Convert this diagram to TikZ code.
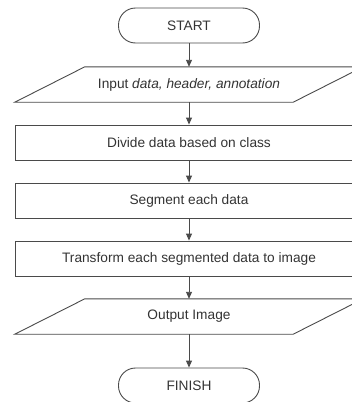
\documentclass[tikz,border=0pt]{standalone}
\usepackage{fontspec}
\setmainfont{Liberation Sans}
\usetikzlibrary{arrows.meta}
\definecolor{linec}{HTML}{4A4A4A}
\definecolor{textc}{HTML}{333333}
\tikzset{
  every node/.style={font=\fontsize{13.7}{16}\selectfont, text=textc},
  term/.style={draw=linec, line width=0.9pt, rectangle, rounded corners=17pt, minimum width=141pt, minimum height=35pt, inner sep=0pt},
  procbox/.style={draw=linec, line width=0.9pt, rectangle, minimum width=348pt, minimum height=35pt, inner sep=0pt},
  iobox/.style={rectangle, minimum width=278pt, minimum height=35pt, inner sep=0pt},
  ioline/.style={draw=linec, line width=0.9pt},
  flow/.style={draw=linec, line width=0.9pt, -{Triangle[width=6pt,length=7pt]}}
}
\begin{document}
\begin{tikzpicture}[x=1pt,y=1pt]
\useasboundingbox (0,0) rectangle (352,-402);
\clip (0,0) rectangle (352,-402);
\node[term] (start) at (189,-25.5) {START};
\node[iobox] (in) at (189,-84.5) {Input \textit{data, header, annotation}};
\node[procbox] (div) at (189,-142.5) {Divide data based on class};
\node[procbox] (seg) at (189,-200.5) {Segment each data};
\node[procbox] (tra) at (189,-258.5) {Transform each segmented data to image};
\node[iobox] (out) at (189,-316.5) {Output Image};
\node[term] (fin) at (189,-385.5) {FINISH};
\path[ioline] ([xshift=-35pt]in.south west) -- ([xshift=35pt]in.north west) -- ([xshift=35pt]in.north east) -- ([xshift=-35pt]in.south east) -- cycle;
\path[ioline] ([xshift=-35pt]out.south west) -- ([xshift=35pt]out.north west) -- ([xshift=35pt]out.north east) -- ([xshift=-35pt]out.south east) -- cycle;
\draw[flow] (start) -- (in);
\draw[flow] (in) -- (div);
\draw[flow] (div) -- (seg);
\draw[flow] (seg) -- (tra);
\draw[flow] (tra) -- (out);
\draw[flow] (out) -- (fin);
\end{tikzpicture}
\end{document}
